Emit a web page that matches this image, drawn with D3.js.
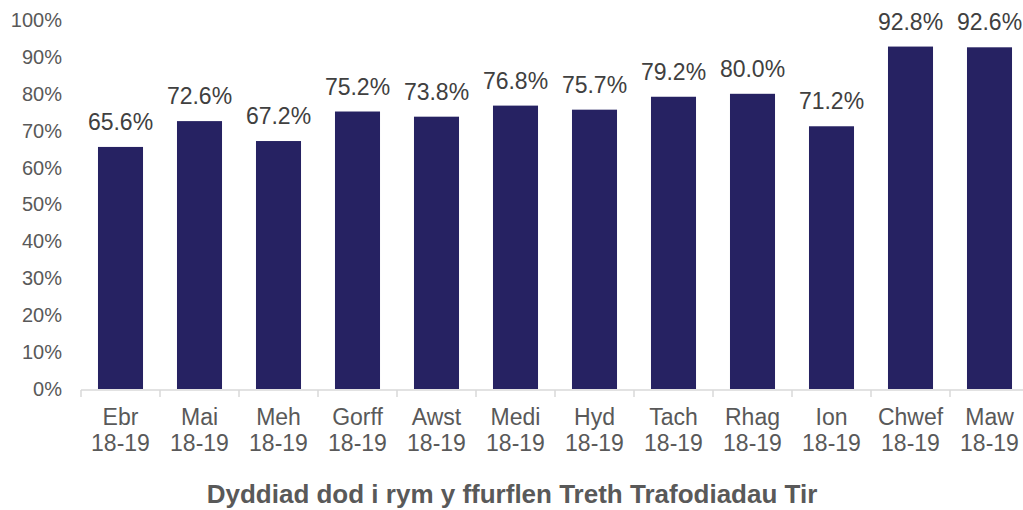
<!DOCTYPE html>
<html>
<head>
<meta charset="utf-8">
<script src="https://cdn.jsdelivr.net/npm/d3@7"></script>
<style>
  body { margin: 0; background: #fff; }
  text { font-family: "Liberation Sans", Arial, sans-serif; }
</style>
</head>
<body>
<div id="chart"></div>
<script>
// data
var months = ["Ebr", "Mai", "Meh", "Gorff", "Awst", "Medi", "Hyd", "Tach", "Rhag", "Ion", "Chwef", "Maw"];
var year = "18-19";
var values = [65.6, 72.6, 67.2, 75.2, 73.8, 76.8, 75.7, 79.2, 80.0, 71.2, 92.8, 92.6];
var yTicks = [0, 10, 20, 30, 40, 50, 60, 70, 80, 90, 100];
var axisTitle = "Dyddiad dod i rym y ffurflen Treth Trafodiadau Tir";

var width = 1023, height = 510;

var svg = d3.select("#chart")
  .append("svg")
    .attr("width", width)
    .attr("height", height);

var xscale = d3.scaleBand()
  .domain(months)
  .range([81, 1029])
  .paddingInner(0.43)
  .paddingOuter(0.215);

var yscale = d3.scaleLinear()
  .domain([0, 100])
  .range([389, 20]);

// y axis labels only
svg.append("g")
  .attr("transform", "translate(62,0)")
  .call(d3.axisLeft(yscale).tickValues(yTicks).tickSize(0).tickPadding(0)
    .tickFormat(function(d) { return d + "%"; }))
  .call(g => g.select(".domain").remove())
  .call(g => g.selectAll("text")
    .attr("fill", "#595959")
    .attr("font-size", "20px")
    .attr("font-family", "Liberation Sans, Arial, sans-serif"));

// bars
svg.selectAll("rect.bar")
  .data(values)
  .join("rect")
    .attr("class", "bar")
    .attr("x", function(d, i) { return xscale(months[i]); })
    .attr("width", xscale.bandwidth())
    .attr("y", function(d) { return yscale(d); })
    .attr("height", function(d) { return yscale(0) - yscale(d); })
    .attr("fill", "#262262");

// value labels
svg.selectAll("text.val")
  .data(values)
  .join("text")
    .attr("class", "val")
    .attr("x", function(d, i) { return xscale(months[i]) + xscale.bandwidth() / 2; })
    .attr("y", function(d) { return yscale(d) - 17; })
    .attr("text-anchor", "middle")
    .attr("fill", "#404040")
    .attr("font-size", "23px")
    .text(function(d) { return d.toFixed(1) + "%"; });

// x axis line + category ticks
var step = xscale.step();
var x0 = xscale.range()[0];
svg.append("line")
  .attr("x1", x0).attr("x2", xscale.range()[1])
  .attr("y1", 390).attr("y2", 390)
  .attr("stroke", "#d9d9d9").attr("stroke-width", 1.5);

svg.selectAll("line.tick")
  .data(d3.range(months.length + 1))
  .join("line")
    .attr("class", "tick")
    .attr("x1", function(i) { return x0 + i * step; })
    .attr("x2", function(i) { return x0 + i * step; })
    .attr("y1", 390).attr("y2", 397)
    .attr("stroke", "#d9d9d9").attr("stroke-width", 1.5);

// category labels, two lines
var cat = svg.selectAll("text.cat")
  .data(months)
  .join("text")
    .attr("class", "cat")
    .attr("text-anchor", "middle")
    .attr("fill", "#595959")
    .attr("font-size", "23px");

cat.append("tspan")
  .attr("x", function(d) { return xscale(d) + xscale.bandwidth() / 2; })
  .attr("y", 425)
  .text(function(d) { return d; });
cat.append("tspan")
  .attr("x", function(d) { return xscale(d) + xscale.bandwidth() / 2; })
  .attr("y", 451)
  .text(year);

// axis title
svg.append("text")
  .attr("x", 512)
  .attr("y", 503)
  .attr("text-anchor", "middle")
  .attr("fill", "#595959")
  .attr("font-size", "26px")
  .attr("font-weight", "bold")
  .text(axisTitle);
</script>
</body>
</html>
